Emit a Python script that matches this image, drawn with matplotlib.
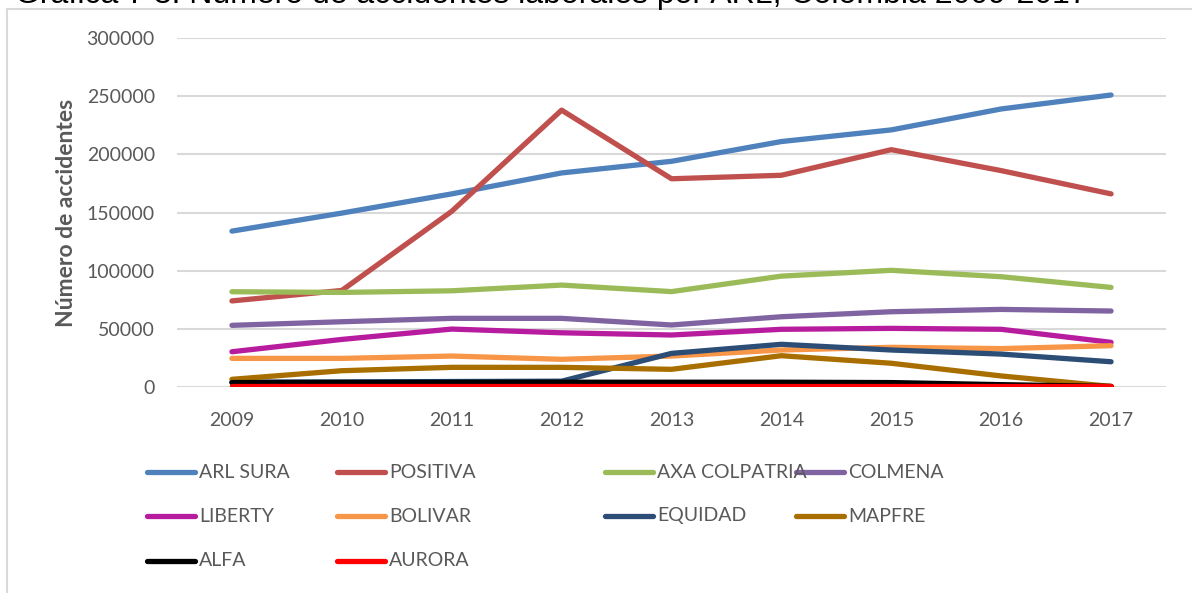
import matplotlib.pyplot as plt
from matplotlib.lines import Line2D

years = [2009, 2010, 2011, 2012, 2013, 2014, 2015, 2016, 2017]

arl_sura = [134000, 149500, 166000, 184000, 194000, 211000, 221000, 239000, 251000]
positiva = [74000, 83000, 151000, 238000, 179000, 182000, 204000, 186000, 166000]
axa_colpatria = [81900, 81300, 82700, 87600, 82000, 95300, 100300, 94800, 85600]
colmena = [53000, 56100, 59000, 59000, 53300, 60400, 64700, 66700, 65300]
liberty = [30300, 40900, 49800, 46600, 44700, 49600, 50400, 49600, 38400]
bolivar = [24600, 24600, 26600, 23800, 26600, 31800, 34100, 33000, 35500]
equidad = [4200, 4400, 4700, 5000, 28900, 36700, 31800, 28300, 21700]
mapfre = [6600, 14000, 16900, 16900, 15200, 26900, 20400, 9500, 500]
alfa = [3800, 3900, 4000, 4100, 4100, 4100, 3800, 2000, 500]
aurora = [500, 500, 500, 500, 500, 500, 500, 500, 500]

names = ['ARL SURA', 'POSITIVA', 'AXA COLPATRIA', 'COLMENA', 'LIBERTY',
         'BOLIVAR', 'EQUIDAD', 'MAPFRE', 'ALFA', 'AURORA']
series = [arl_sura, positiva, axa_colpatria, colmena, liberty,
          bolivar, equidad, mapfre, alfa, aurora]
colors = ['#4F81BD', '#C0504D', '#9BBB59', '#8064A2', '#B71C9F',
          '#F79646', '#2C4D75', '#A86F00', '#000000', '#FF0000']

W, H = 1192, 593
fig = plt.figure(figsize=(W / 100, H / 100), dpi=100)
ax = fig.add_axes([177 / W, 1 - 387 / H, (1166 - 177) / W, (387 - 38) / H])

for name, vals, c in zip(names, series, colors):
    ax.plot(years, vals, color=c, lw=3.8, solid_capstyle='round',
            solid_joinstyle='round', label=name)

ax.set_xlim(2008.5, 2017.5)
ax.set_ylim(0, 300000)
ax.set_yticks(range(0, 300001, 50000))
ax.set_xticks(years)
ax.grid(axis='y', color='#D9D9D9', lw=1.5)
ax.set_axisbelow(True)
for s in ax.spines.values():
    s.set_visible(False)
ax.tick_params(length=0, labelsize=14, labelcolor='#595959')
ax.tick_params(axis='y', pad=16)
ax.tick_params(axis='x', pad=18)
for lab in ax.get_xticklabels() + ax.get_yticklabels():
    lab.set_family('Lato')
ax.set_ylabel('Número de accidentes', fontsize=16.5, fontweight='bold',
              color='#595959', family='Lato', labelpad=7)

# chart border (cut off by the picture on right and bottom)
fig.add_artist(Line2D([7 / W, 7 / W], [0, 1 - 9 / H], color='#D9D9D9', lw=1.5))
fig.add_artist(Line2D([7 / W, 1], [1 - 9 / H, 1 - 9 / H], color='#D9D9D9', lw=1.5))

# title, mostly cut off at the top as in the source
fig.text(15 / W, 1 - 3 / H, 'Gráfica 7 3. Número de accidentes laborales por ARL, Colombia 2009-2017',
         family='Liberation Sans', fontsize=23, va='baseline', ha='left', color='black')

# legend drawn by hand, Excel-style uneven columns
col_x = [147, 337, 605, 796]
row_y = [472, 516, 561]
for i, (name, c) in enumerate(zip(names, colors)):
    r, k = divmod(i, 4)
    x0 = col_x[k]
    y0 = 1 - row_y[r] / H
    fig.add_artist(Line2D([x0 / W, (x0 + 48) / W], [y0, y0], color=c, lw=3.8,
                          solid_capstyle='round'))
    fig.text((x0 + 52) / W, y0, name, family='Lato', fontsize=14,
             color='#595959', va='center', ha='left')

fig.savefig('out.png', dpi=100)
